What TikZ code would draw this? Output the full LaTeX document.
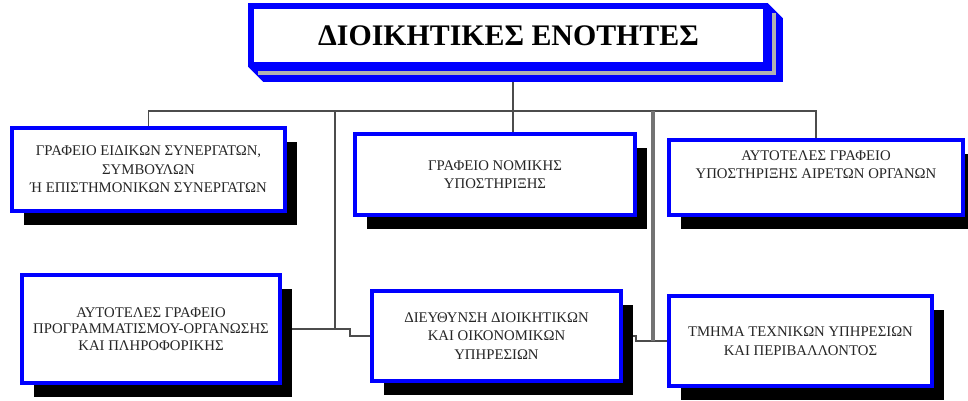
\documentclass[tikz,border=0pt]{standalone}
\usepackage{fontspec}
\setmainfont{Liberation Serif}
\usetikzlibrary{shadows,backgrounds}

\begin{document}
\begin{tikzpicture}[x=0.02cm,y=-0.02cm,
    unit/.style={draw=blue,line width=2.2pt,fill=white,align=center,text=black!85,
        font=\fontsize{8.4}{10.6}\selectfont,inner sep=2pt,
        drop shadow={fill=black,opacity=1,shadow xshift=6.8pt,shadow yshift=-7.9pt}},
    head/.style={draw=blue,line width=2.4pt,fill=white,font=\fontsize{17}{20}\selectfont\bfseries,
        minimum width=10.26cm,minimum height=1.14cm},
    wire/.style={draw=black!70,line width=1.1pt},
    mainwire/.style={draw=black!55,line width=1.9pt}]
        \useasboundingbox (0,0) rectangle (968,400);

        \node[head] (title) at (508.5,35.5) {ΔΙΟΙΚΗΤΙΚΕΣ ΕΝΟΤΗΤΕΣ};

        \node[unit,minimum width=5.46cm,minimum height=1.66cm] (b1) at (148.5,169.5)
            {ΓΡΑΦΕΙΟ ΕΙΔΙΚΩΝ ΣΥΝΕΡΓΑΤΩΝ,\\ΣΥΜΒΟΥΛΩΝ\\Ή ΕΠΙΣΤΗΜΟΝΙΚΩΝ ΣΥΝΕΡΓΑΤΩΝ};
        \node[unit,minimum width=5.6cm,minimum height=1.62cm] (b2) at (495,174.5)
            {ΓΡΑΦΕΙΟ ΝΟΜΙΚΗΣ\\ΥΠΟΣΤΗΡΙΞΗΣ};
        \node[unit,minimum width=5.88cm,minimum height=1.5cm] (b3) at (816,177.5)
            {ΑΥΤΟΤΕΛΕΣ ΓΡΑΦΕΙΟ\\ΥΠΟΣΤΗΡΙΞΗΣ ΑΙΡΕΤΩΝ ΟΡΓΑΝΩΝ\\[4pt]};
        \node[unit,minimum width=5.16cm,minimum height=2.16cm,font=\fontsize{8.4}{9.3}\selectfont] (b4) at (151,329)
            {ΑΥΤΟΤΕΛΕΣ ΓΡΑΦΕΙΟ\\ΠΡΟΓΡΑΜΜΑΤΙΣΜΟΥ-ΟΡΓΑΝΩΣΗΣ\\ΚΑΙ ΠΛΗΡΟΦΟΡΙΚΗΣ};
        \node[unit,minimum width=4.98cm,minimum height=1.8cm] (b5) at (496.5,336)
            {ΔΙΕΥΘΥΝΣΗ ΔΙΟΙΚΗΤΙΚΩΝ\\ΚΑΙ ΟΙΚΟΝΟΜΙΚΩΝ\\ΥΠΗΡΕΣΙΩΝ};
        \node[unit,minimum width=5.26cm,minimum height=1.8cm] (b6) at (800.5,341)
            {ΤΜΗΜΑ ΤΕΧΝΙΚΩΝ ΥΠΗΡΕΣΙΩΝ\\ΚΑΙ ΠΕΡΙΒΑΛΛΟΝΤΟΣ};

        \coordinate (bus) at (0,111);
        \coordinate (tdrop) at (513,0);
        \coordinate (ldrop) at (335,0);
        \coordinate (rdrop) at (653,0);
        \coordinate (lstep) at (350,0);
        \coordinate (rstep) at (636,0);

        \begin{scope}[on background layer]
        \draw[wire] (b1.north) -- (b1.north |- bus) -- (b3.north |- bus) -- (b3.north);
        \draw[wire] (tdrop |- title.south) -- (tdrop |- b2.north);
        \draw[wire] (ldrop |- bus) -- (ldrop |- b4.east);
        \draw[wire] (b4.east) -- (b4.east -| lstep) |- (b5.west);
        \draw[wire] (b5.east) -- (b5.east -| rstep) |- (b6.west);
        \draw[mainwire] (rdrop |- bus) -- (rdrop |- b6.west);

        \draw[draw=blue,line width=2pt,fill=blue] (title.north west) -- (title.north east)
            -- ([shift={(14,14)}]title.north east) -- ([shift={(14,14)}]title.south east)
            -- ([shift={(14,14)}]title.south west) -- (title.south west) -- cycle;
        \draw[black!30,line width=2.4pt] ([shift={(8,7)}]title.south west)
            -- ([shift={(7,7)}]title.south east) -- ([shift={(7,8)}]title.north east);
        \end{scope}
    \end{tikzpicture}
\end{document}
